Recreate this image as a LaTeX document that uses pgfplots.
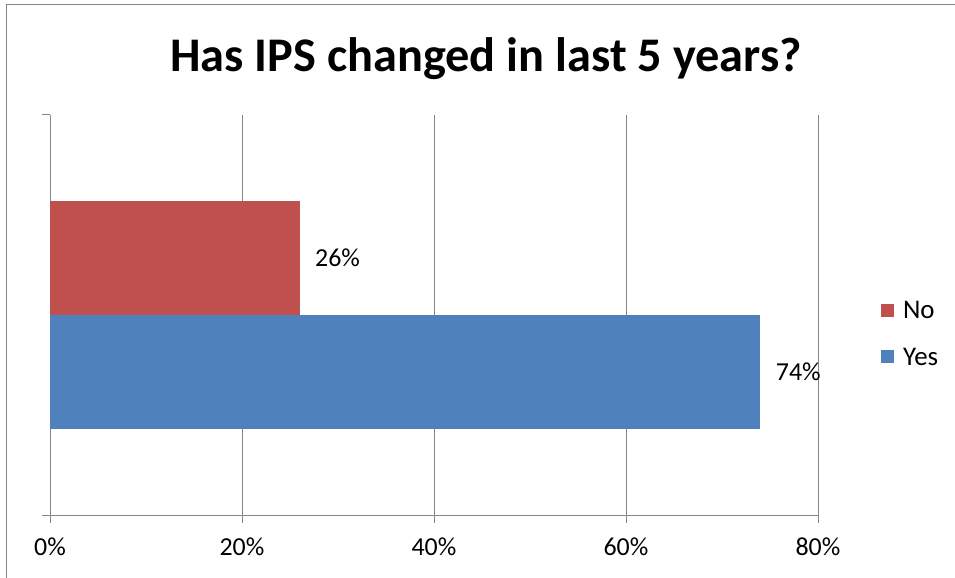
\documentclass[border=0pt]{standalone}
\usepackage{fontspec}
\setmainfont{Carlito}
\usepackage{pgfplots}
\pgfplotsset{compat=1.18}

\definecolor{noRed}{RGB}{192,80,77}
\definecolor{yesBlue}{RGB}{79,129,189}
\definecolor{gridGray}{RGB}{134,134,134}

\begin{document}
\begin{tikzpicture}
\useasboundingbox (0,0) rectangle (955bp,578bp);
% outer frame (only top/left visible in the screenshot)
\draw[gridGray, line width=1.5bp] (6.5bp,0) -- (6.5bp,573.5bp) -- (955bp,573.5bp);
\node[font=\fontsize{48.5}{58}\selectfont\bfseries] at (486bp,519bp) {Has IPS changed in last 5 years?};

\begin{axis}[
    at={(50bp,63bp)}, anchor=south west,
    scale only axis,
    width=768bp, height=400bp,
    xbar, bar width=1, bar shift=0,
    xmin=0, xmax=80,
    ymin=-1.762, ymax=1.762,
    axis x line=bottom, axis y line=left,
    axis line style={-, gridGray, line width=1bp},
    xtick={0,20,40,60,80},
    xticklabels={0\%,20\%,40\%,60\%,80\%},
    ytick={-1.762,1.762}, yticklabels={},
    tick align=outside,
    major tick length=8bp,
    tick style={gridGray, line width=1bp},
    xmajorgrids,
    grid style={gridGray, line width=1bp},
    ticklabel style={font=\fontsize{26}{31}\selectfont},
    xticklabel style={yshift=-11bp},
    /pgf/number format/assume math mode=true,
    nodes near coords={\pgfmathprintnumber{\pgfplotspointmeta}\%},
    nodes near coords style={font=\fontsize{26}{31}\selectfont, anchor=west, xshift=12bp},
    point meta=x,
    legend style={draw=none, at={(1.078,0.4525)}, anchor=west,
        font=\fontsize{27}{32}\selectfont, row sep=24bp,
        /tikz/every odd column/.append style={column sep=7bp}},
    legend cell align=left,
    reverse legend,
    legend image code/.code={\fill[#1] (0bp,-6bp) rectangle (13bp,7bp);},
    % Excel-style tick marks hanging below the category axis
    after end axis/.code={
        \foreach \t in {0,20,40,60,80}
            \draw[gridGray, line width=1bp] (axis cs:\t,-1.762) -- ++(0,-8bp);
    },
]
\addplot[draw=none, fill=yesBlue] coordinates {(74,-0.5)};
\addlegendentry{Yes}
\addplot[draw=none, fill=noRed] coordinates {(26,0.5)};
\addlegendentry{No}
\end{axis}
\end{tikzpicture}
\end{document}
